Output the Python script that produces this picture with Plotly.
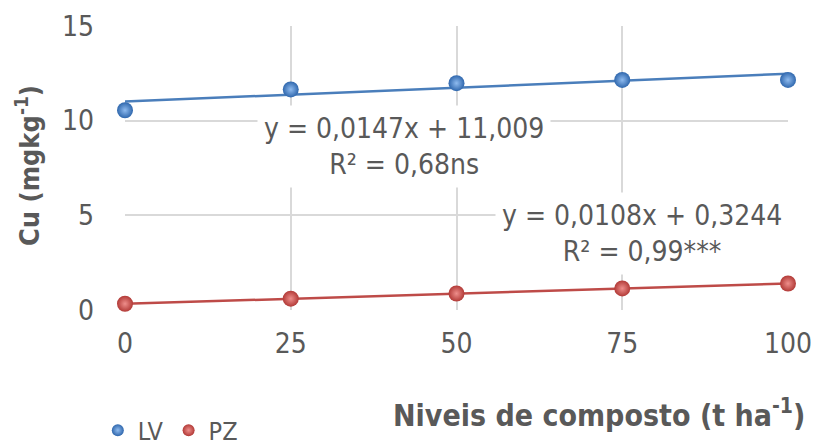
import plotly.graph_objects as go

doses = [0, 25, 50, 75, 100]
lv = [10.55, 11.65, 11.98, 12.15, 12.15]
pz = [0.33, 0.60, 0.87, 1.14, 1.40]
series_names = ["LV", "PZ"]
slopes = [0.0147, 0.0108]
intercepts = [11.009, 0.3244]
eq_labels = ["y = 0,0147x + 11,009<br>R² = 0,68ns", "y = 0,0108x + 0,3244<br>R² = 0,99***"]
x_ticks = [0, 25, 50, 75, 100]
y_ticks = [0, 5, 10, 15]

FONT = "DejaVu Sans Condensed, Roboto, sans-serif"
GREY = "#595959"
line_colors = ["#4a7ebb", "#be4b48"]
mk_colors = ["#2f67ad", "#b23a37"]
mk_light = ["#8fbbef", "#ee8e8b"]

fig = go.Figure()
for i, ys in enumerate([lv, pz]):
    xr = [min(doses), max(doses)]
    fig.add_trace(go.Scatter(
        x=xr, y=[slopes[i] * v + intercepts[i] for v in xr], mode="lines",
        line=dict(color=line_colors[i], width=2.5), showlegend=False,
        hoverinfo="skip", cliponaxis=False))
for i, ys in enumerate([lv, pz]):
    fig.add_trace(go.Scatter(
        x=doses, y=ys, mode="markers", name=series_names[i],
        marker=dict(size=16, color=mk_colors[i],
                    gradient=dict(type="radial", color=mk_light[i]),
                    line=dict(width=0)),
        cliponaxis=False))

fig.add_annotation(x=0.421, y=0.574, xref="paper", yref="paper", text=eq_labels[0],
                   xanchor="center", yanchor="middle",
                   showarrow=False, align="center", bgcolor="white", borderpad=6,
                   font=dict(family=FONT, size=28, color=GREY))
fig.add_annotation(x=0.780, y=0.271, xref="paper", yref="paper", text=eq_labels[1],
                   xanchor="center", yanchor="middle",
                   showarrow=False, align="center", bgcolor="white", borderpad=6,
                   font=dict(family=FONT, size=28, color=GREY))
fig.add_annotation(x=0.715, y=-0.366, xref="paper", yref="paper",
                   xanchor="center", yanchor="middle",
                   text="<b>Niveis de composto (t ha<sup>-1</sup>)</b>",
                   showarrow=False, font=dict(family=FONT, size=30, color=GREY))
fig.add_annotation(x=-0.148, y=0.51, xref="paper", yref="paper",
                   xanchor="center", yanchor="middle",
                   text="<b>Cu (mgkg<sup>-1</sup>)</b>", textangle=-90,
                   showarrow=False, font=dict(family=FONT, size=27, color=GREY))

fig.update_layout(
    width=818, height=446,
    margin=dict(l=125, r=30, t=26, b=136, autoexpand=False),
    paper_bgcolor="white", plot_bgcolor="white",
    font=dict(family=FONT, color=GREY, size=26),
    showlegend=True,
    legend=dict(orientation="h", x=-0.041, y=-0.424, xanchor="left", yanchor="middle",
                font=dict(family=FONT, size=25, color=GREY), itemwidth=30,
                tracegroupgap=0, itemsizing="constant"),
)
fig.update_xaxes(range=[0, 100], tickvals=x_ticks, showgrid=True, gridcolor="#d9d9d9",
                 gridwidth=1.5, zeroline=False, showline=False, ticks="",
                 ticklabelstandoff=14, tickfont=dict(size=28, color=GREY), automargin=False)
fig.update_yaxes(range=[0, 15], tickvals=y_ticks, showgrid=True, gridcolor="#d9d9d9",
                 gridwidth=1.5, zeroline=False, showline=False, ticks="",
                 ticklabelstandoff=30, tickfont=dict(size=28, color=GREY), automargin=False)
fig.write_html("out.html", config={"displayModeBar": False},
               post_script="document.body.style.margin='0';document.body.style.overflow='hidden';")
